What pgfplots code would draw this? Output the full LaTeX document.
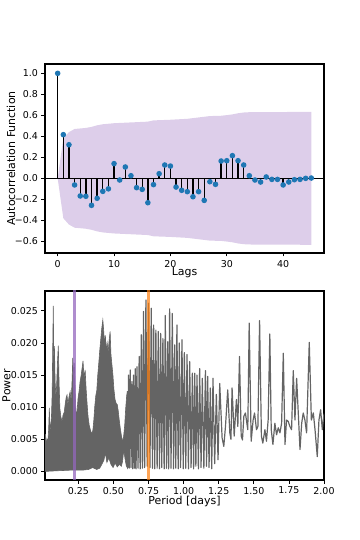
\documentclass[border=0pt]{standalone}
\usepackage{fontspec}
\setmainfont{DejaVu Sans}
\usepackage{pgfplots}
\pgfplotsset{compat=1.18}

\definecolor{c0}{HTML}{1F77B4}
\definecolor{c1}{HTML}{FF7F0E}
\definecolor{c4}{HTML}{9467BD}
\definecolor{pg}{RGB}{100,100,100}

\pgfplotsset{
  mpl/.style={
    scale only axis, width=279bp, height=189bp,
    axis line style={line width=1.6bp},
    tick align=outside, tick pos=left,
    major tick length=3.5bp,
    every tick/.style={black, line width=0.8bp},
    ticklabel style={font=\fontsize{9.5}{10}\selectfont},
    label style={font=\fontsize{11}{12}\selectfont},
    /pgf/number format/assume math mode=true,
    scaled x ticks=false, scaled y ticks=false,
  }
}

\begin{document}
\begin{tikzpicture}
\useasboundingbox (0,0) rectangle (360bp,540bp);

% ACF panel
\begin{axis}[mpl, at={(45bp,287bp)}, anchor=south west,
  xmin=-2.25, xmax=47.25, ymin=-0.711, ymax=1.089,
  xtick={0,10,20,30,40},
  ytick={-0.6,-0.4,-0.2,0,0.2,0.4,0.6,0.8,1.0},
  yticklabels={−0.6,−0.4,−0.2,0.0,0.2,0.4,0.6,0.8,1.0},
  xlabel={Lags}, ylabel={Autocorrelation Function},
  xlabel style={at={(axis description cs:0.5,-0.078)}, anchor=north, inner sep=0pt},
  ylabel style={at={(axis description cs:-0.122,0.5)}, anchor=center},
]
% confidence band
\addplot[draw=none, fill=c4, fill opacity=0.32] coordinates {
(0,0) (1,0.38) (2,0.44) (3,0.47) (4,0.475) (5,0.48) (6,0.49) (7,0.505)
(8,0.515) (9,0.52) (10,0.525) (12,0.53) (14,0.535) (16,0.54) (17,0.552)
(20,0.558) (23,0.567) (25,0.58) (27,0.593) (29,0.596) (30,0.602) (31,0.609)
(32,0.62) (33,0.627) (34,0.63) (45,0.633)
(45,-0.633) (34,-0.63) (33,-0.627) (32,-0.62) (31,-0.609) (30,-0.602)
(29,-0.596) (27,-0.593) (25,-0.58) (23,-0.567) (20,-0.558) (17,-0.552)
(16,-0.54) (14,-0.535) (12,-0.53) (10,-0.525) (9,-0.52) (8,-0.515)
(7,-0.505) (6,-0.49) (5,-0.48) (4,-0.475) (3,-0.47) (2,-0.44) (1,-0.38) (0,0)
};
\addplot[black, line width=1.3bp] coordinates {(-2.25,0) (47.25,0)};
\addplot[ycomb, black, line width=1.3bp,
  mark=*, mark size=2.1bp, mark options={draw=c0, fill=c0}] coordinates {
(0,1.000) (1,0.416) (2,0.320) (3,-0.063) (4,-0.168) (5,-0.171) (6,-0.257)
(7,-0.190) (8,-0.124) (9,-0.100) (10,0.140) (11,-0.016) (12,0.108)
(13,0.025) (14,-0.089) (15,-0.105) (16,-0.232) (17,-0.060) (18,0.044)
(19,0.127) (20,0.117) (21,-0.083) (22,-0.114) (23,-0.127) (24,-0.175)
(25,-0.127) (26,-0.210) (27,-0.032) (28,-0.057) (29,0.165) (30,0.168)
(31,0.216) (32,0.168) (33,0.127) (34,0.025) (35,-0.016) (36,-0.035)
(37,0.013) (38,-0.010) (39,-0.010) (40,-0.063) (41,-0.035) (42,-0.013)
(43,-0.010) (44,0.000) (45,0.003)
};
\end{axis}

% periodogram panel
\begin{axis}[mpl, at={(45bp,60bp)}, anchor=south west,
  xmin=0.012, xmax=2.0, ymin=-0.00134, ymax=0.0281,
  xtick={0.25,0.5,0.75,1,1.25,1.5,1.75,2},
  xticklabels={0.25,0.50,0.75,1.00,1.25,1.50,1.75,2.00},
  ytick={0,0.005,0.01,0.015,0.02,0.025},
  yticklabels={0.000,0.005,0.010,0.015,0.020,0.025},
  xlabel={Period [days]}, ylabel={Power},
  xlabel style={at={(axis description cs:0.5,-0.085)}, anchor=north, inner sep=0pt},
  ylabel style={at={(axis description cs:-0.138,0.5)}, anchor=center},
]
% short periods: fringes too close to resolve, drawn as their envelope
\addplot[draw=pg, fill=pg, line width=0.6bp] coordinates {
(0.012,0.0000) (0.012,0.0040) (0.016,0.0058) (0.020,0.0042) (0.026,0.0050)
(0.032,0.0045) (0.038,0.0065) (0.043,0.0099) (0.047,0.0062) (0.052,0.0070)
(0.058,0.0085) (0.063,0.0120) (0.067,0.0190) (0.071,0.0258) (0.075,0.0165)
(0.079,0.0195) (0.084,0.0140) (0.090,0.0115) (0.095,0.0135) (0.101,0.0170)
(0.107,0.0196) (0.112,0.0140) (0.118,0.0098) (0.125,0.0085) (0.133,0.0078)
(0.141,0.0088) (0.149,0.0092) (0.156,0.0105) (0.163,0.0115) (0.169,0.0119)
(0.175,0.0104) (0.183,0.0116) (0.191,0.0124) (0.198,0.0110) (0.204,0.0135)
(0.210,0.0177) (0.215,0.0148) (0.221,0.0169) (0.227,0.0122) (0.234,0.0085)
(0.241,0.0095) (0.248,0.0115) (0.255,0.0125) (0.262,0.0140) (0.270,0.0150)
(0.277,0.0162) (0.283,0.0172) (0.290,0.0145) (0.298,0.0158) (0.305,0.0128)
(0.312,0.0105) (0.319,0.0085) (0.327,0.0072) (0.336,0.0064) (0.345,0.0058)
(0.353,0.0064) (0.360,0.0080) (0.367,0.0102) (0.374,0.0118) (0.381,0.0126)
(0.388,0.0150) (0.395,0.0168) (0.402,0.0188) (0.409,0.0205) (0.416,0.0222)
(0.424,0.0236) (0.430,0.0220) (0.436,0.0198) (0.442,0.0212) (0.448,0.0188)
(0.455,0.0200) (0.462,0.0186) (0.469,0.0204) (0.476,0.0218) (0.482,0.0182)
(0.489,0.0166) (0.496,0.0150) (0.503,0.0128) (0.511,0.0112) (0.519,0.0106)
(0.527,0.0104) (0.534,0.0094) (0.541,0.0080) (0.549,0.0066) (0.557,0.0055)
(0.565,0.0046) (0.572,0.0054) (0.580,0.0072) (0.587,0.0098) (0.594,0.0118)
(0.600,0.0125)
(0.600,0.0005) (0.591,0.0009) (0.582,0.0020) (0.573,0.0034) (0.565,0.0016)
(0.556,0.0008) (0.542,0.0011) (0.527,0.0007) (0.512,0.0013) (0.497,0.0006)
(0.482,0.0011) (0.467,0.0021) (0.453,0.0014) (0.442,0.0029) (0.431,0.0017)
(0.417,0.0011) (0.402,0.0005) (0.380,0.0003) (0.352,0.0006) (0.322,0.0003)
(0.280,0.0002) (0.200,0.0002) (0.100,0.0001) (0.012,0.0000)
};
% resolved fringes
\addplot[pg, line width=1.2bp, line join=round] coordinates {
(0.600,0.0125) (0.602,0.0006) (0.607,0.0150) (0.612,0.0005) (0.619,0.0158)
(0.625,0.0006) (0.631,0.0140) (0.637,0.0004) (0.643,0.0150) (0.649,0.0005)
(0.655,0.0160) (0.661,0.0004) (0.667,0.0163) (0.675,0.0005) (0.683,0.0179)
(0.690,0.0004) (0.698,0.0213) (0.706,0.0005) (0.714,0.0249) (0.722,0.0006)
(0.731,0.0267) (0.740,0.0008) (0.750,0.0262) (0.760,0.0006) (0.769,0.0254)
(0.778,0.0005) (0.786,0.0228) (0.794,0.0004) (0.802,0.0220) (0.811,0.0005)
(0.819,0.0218) (0.828,0.0004) (0.836,0.0215) (0.844,0.0006) (0.852,0.0207)
(0.861,0.0004) (0.869,0.0243) (0.878,0.0005) (0.886,0.0202) (0.893,0.0004)
(0.900,0.0253) (0.910,0.0005) (0.919,0.0246) (0.928,0.0004) (0.936,0.0197)
(0.944,0.0005) (0.952,0.0228) (0.961,0.0004) (0.969,0.0200) (0.978,0.0006)
(0.988,0.0205) (0.997,0.0004) (1.005,0.0185) (1.015,0.0005) (1.024,0.0182)
(1.034,0.0004) (1.043,0.0171) (1.053,0.0006) (1.062,0.0153) (1.071,0.0004)
(1.079,0.0153) (1.087,0.0008) (1.095,0.0150) (1.105,0.0004) (1.114,0.0160)
(1.124,0.0006) (1.133,0.0145) (1.144,0.0005) (1.155,0.0157) (1.163,0.0008)
(1.171,0.0148) (1.181,0.0006) (1.190,0.0130) (1.200,0.0004) (1.209,0.0145)
(1.221,0.0012) (1.233,0.0120) (1.245,0.0018) (1.257,0.0137) (1.274,0.0052)
(1.286,0.0039) (1.298,0.0070) (1.314,0.0127) (1.329,0.0060) (1.337,0.0050)
(1.345,0.0130) (1.360,0.0055) (1.376,0.0112) (1.386,0.0070) (1.398,0.0179)
(1.410,0.0055) (1.419,0.0049) (1.429,0.0086) (1.440,0.0091) (1.457,0.0065)
(1.467,0.0231) (1.481,0.0047) (1.495,0.0080) (1.505,0.0091) (1.519,0.0065)
(1.529,0.0070) (1.541,0.0235) (1.554,0.0055) (1.564,0.0044) (1.579,0.0065)
(1.590,0.0047) (1.602,0.0080) (1.614,0.0214) (1.624,0.0065) (1.636,0.0042)
(1.650,0.0075) (1.662,0.0057) (1.674,0.0068) (1.686,0.0060) (1.698,0.0075)
(1.710,0.0184) (1.722,0.0042) (1.733,0.0080) (1.745,0.0078) (1.757,0.0070)
(1.769,0.0065) (1.781,0.0157) (1.793,0.0080) (1.805,0.0145) (1.829,0.0034)
(1.841,0.0075) (1.852,0.0091) (1.864,0.0080) (1.876,0.0060) (1.895,0.0201)
(1.910,0.0080) (1.924,0.0091) (1.936,0.0065) (1.952,0.0023) (1.964,0.0080)
(1.976,0.0096) (1.988,0.0065) (2.000,0.0090)
};
\addplot[c4, opacity=0.75, line width=2.6bp] coordinates {(0.221,-0.002) (0.221,0.03)};
\addplot[c1, opacity=0.7, line width=2.6bp] coordinates {(0.748,-0.002) (0.748,0.03)};
\end{axis}
\end{tikzpicture}
\end{document}
